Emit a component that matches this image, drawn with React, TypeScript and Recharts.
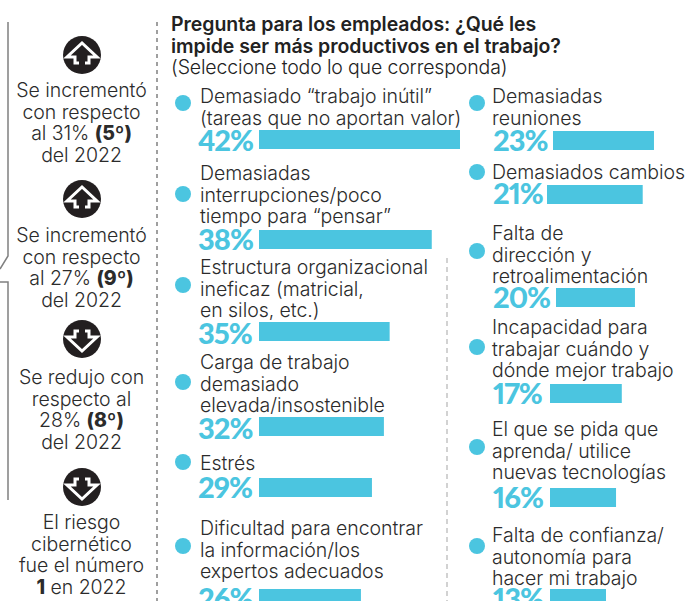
import { BarChart, Bar, XAxis, YAxis } from "recharts"

const BLUE = "#4bc5e0"
const FONT = "Inter, Lato, sans-serif"
const LABEL_FONT = "Lato, sans-serif"

// bars in the graphic are not strictly proportional to their printed %,
// so the drawn lengths are read off separately (same axis, 0-42)
const leftCategories = [
  ["Demasiado “trabajo inútil”", "(tareas que no aportan valor)"],
  ["Demasiadas", "interrupciones/poco", "tiempo para “pensar”"],
  ["Estructura organizacional", "ineficaz (matricial,", "en silos, etc.)"],
  ["Carga de trabajo", "demasiado", "elevada/insostenible"],
  ["Estrés"],
  ["Dificultad para encontrar", "la información/los", "expertos adecuados"],
]
const leftLabels = ["42%", "38%", "35%", "32%", "29%", "26%"]
const leftBars = [42, 36.1, 27.3, 26.1, 23.6, 21.3]

const rightCategories = [
  ["Demasiadas", "reuniones"],
  ["Demasiados cambios"],
  ["Falta de", "dirección y", "retroalimentación"],
  ["Incapacidad para", "trabajar cuándo y", "dónde mejor trabajo"],
  ["El que se pida que", "aprenda/ utilice", "nuevas tecnologías"],
  ["Falta de confianza/", "autonomía para", "hacer mi trabajo"],
]
const rightLabels = ["23%", "21%", "20%", "17%", "16%", "13%"]
const rightBars = [21.1, 20, 16.5, 15, 13.8, 11.7]

const Strong = ({ children }: { children: string }) => <b style={{ fontWeight: 800 }}>{children}</b>

const changes = [
  { dir: "up", lines: ["Se incrementó", "con respecto", <>al 31% <Strong>(5º)</Strong></>, "del 2022"] },
  { dir: "up", lines: ["Se incrementó", "con respecto", <>al 27% <Strong>(9º)</Strong></>, "del 2022"] },
  { dir: "down", lines: ["Se redujo con", "respecto al", <>28% <Strong>(8º)</Strong></>, "del 2022"] },
  { dir: "down", lines: ["El riesgo", "cibernético", "fue el número", <><Strong>1</Strong> en 2022</>] },
]

// layout, page pixels
const leftLayout = [
  { dot: 103, text: 96, label: 140, barX: 259, barY: 129 },
  { dot: 194, text: 173, label: 239, barX: 259, barY: 229 },
  { dot: 285, text: 267, label: 333, barX: 259, barY: 321 },
  { dot: 382, text: 362, label: 428, barX: 259, barY: 416 },
  { dot: 462, text: 463, label: 487, barX: 259, barY: 477 },
  { dot: 546, text: 528, label: 598, barX: 259, barY: 588 },
]
const rightLayout = [
  { dot: 103, text: 96, label: 140, barX: 553, barY: 130 },
  { dot: 172, text: 172, label: 193, barX: 547, barY: 184 },
  { dot: 251, text: 233, label: 297, barX: 556, barY: 287 },
  { dot: 347, text: 327, label: 393, barX: 550, barY: 383 },
  { dot: 447, text: 429, label: 497, barX: 550, barY: 487 },
  { dot: 546, text: 535, label: 598, barX: 550, barY: 588 },
]
const iconCenters = [55, 199, 339, 487]
const changeText = [90, 235, 377, 522]

const bodyText = {
  fontSize: 19.5,
  lineHeight: "21.5px",
  fontWeight: 300,
  letterSpacing: -0.05,
  color: "#2b2b2b",
  whiteSpace: "nowrap",
} as const

function BarRow({ label, value, x, y }: { label: string; value: number; x: number; y: number }) {
  return (
    <div style={{ position: "absolute", left: x, top: y }}>
      <BarChart
        width={201}
        height={21}
        layout="vertical"
        data={[{ name: label, value }]}
        margin={{ top: 0, right: 0, bottom: 0, left: 0 }}
      >
        <XAxis type="number" domain={[0, 42]} hide />
        <YAxis type="category" dataKey="name" hide />
        <Bar dataKey="value" fill={BLUE} barSize={21} isAnimationActive={false} />
      </BarChart>
    </div>
  )
}

function Column({ cats, labels, bars, layout, dotX, textX, labelX }: any) {
  return (
    <>
      {cats.map((lines: string[], i: number) => {
        const l = layout[i]
        return (
          <div key={labels[i]}>
            <div
              style={{
                position: "absolute",
                left: dotX - 8,
                top: l.dot - 8,
                width: 16,
                height: 16,
                borderRadius: "50%",
                background: BLUE,
              }}
            />
            <div style={{ position: "absolute", left: textX, top: l.text - 10, ...bodyText }}>
              {lines.map((t) => (
                <div key={t}>{t}</div>
              ))}
            </div>
            <div
              style={{
                position: "absolute",
                left: labelX,
                top: l.label - 16,
                fontFamily: LABEL_FONT,
                fontVariantNumeric: "proportional-nums",
                fontSize: 29,
                lineHeight: "32px",
                fontWeight: 900,
                letterSpacing: -1,
                color: BLUE,
                whiteSpace: "nowrap",
              }}
            >
              {labels[i]}
            </div>
            <BarRow label={labels[i]} value={bars[i]} x={l.barX} y={l.barY} />
          </div>
        )
      })}
    </>
  )
}

function Icon({ dir, cy }: { dir: string; cy: number }) {
  return (
    <svg style={{ position: "absolute", left: 62, top: cy - 20 }} width={40} height={40} viewBox="-20 -20 40 40">
      <circle r={19} fill="#231f20" />
      <path
        d="M-3,8 L-7,8 L-7,2 L-15,2 L0,-12 L15,2 L7,2 L7,8 L3,8"
        fill="none"
        stroke="#fff"
        strokeWidth={3}
        transform={dir === "down" ? "scale(1,-1)" : undefined}
      />
    </svg>
  )
}

export default function App() {
  return (
    <div
      style={{
        position: "absolute",
        left: 0,
        top: 0,
        width: 694,
        height: 601,
        overflow: "hidden",
        background: "#fff",
        fontFamily: FONT,
      }}
    >
      {/* rules */}
      <svg style={{ position: "absolute", left: 0, top: 0 }} width={694} height={601}>
        <path d="M8,22 L8,256 L0,269 M0,282 L8,282 L8,500" fill="none" stroke="#808080" strokeWidth={1.5} />
        <line x1={157} y1={22} x2={157} y2={601} stroke="#808080" strokeWidth={1.5} strokeDasharray="4 4" />
        <line x1={447} y1={258} x2={447} y2={601} stroke="#c4c4c4" strokeWidth={1.5} strokeDasharray="5 4" />
      </svg>

      {/* header */}
      <div style={{ position: "absolute", left: 171, top: 14, fontSize: 19.5, lineHeight: "21.5px", fontWeight: 600, letterSpacing: -0.05, color: "#222", whiteSpace: "nowrap" }}>
        <div>Pregunta para los empleados: ¿Qué les</div>
        <div>impide ser más productivos en el trabajo?</div>
        <div style={{ fontWeight: 300, letterSpacing: -0.15 }}>(Seleccione todo lo que corresponda)</div>
      </div>

      {/* change vs 2022 */}
      {changes.map((c, i) => (
        <div key={i}>
          <Icon dir={c.dir} cy={iconCenters[i]} />
          <div
            style={{
              position: "absolute",
              left: 0,
              width: 163,
              top: changeText[i] - 10,
              textAlign: "center",
              ...bodyText,
            }}
          >
            {c.lines.map((t, j) => (
              <div key={j}>{t}</div>
            ))}
          </div>
        </div>
      ))}

      <Column cats={leftCategories} labels={leftLabels} bars={leftBars} layout={leftLayout} dotX={183} textX={200} labelX={198} />
      <Column cats={rightCategories} labels={rightLabels} bars={rightBars} layout={rightLayout} dotX={477} textX={492} labelX={493} />
    </div>
  )
}
